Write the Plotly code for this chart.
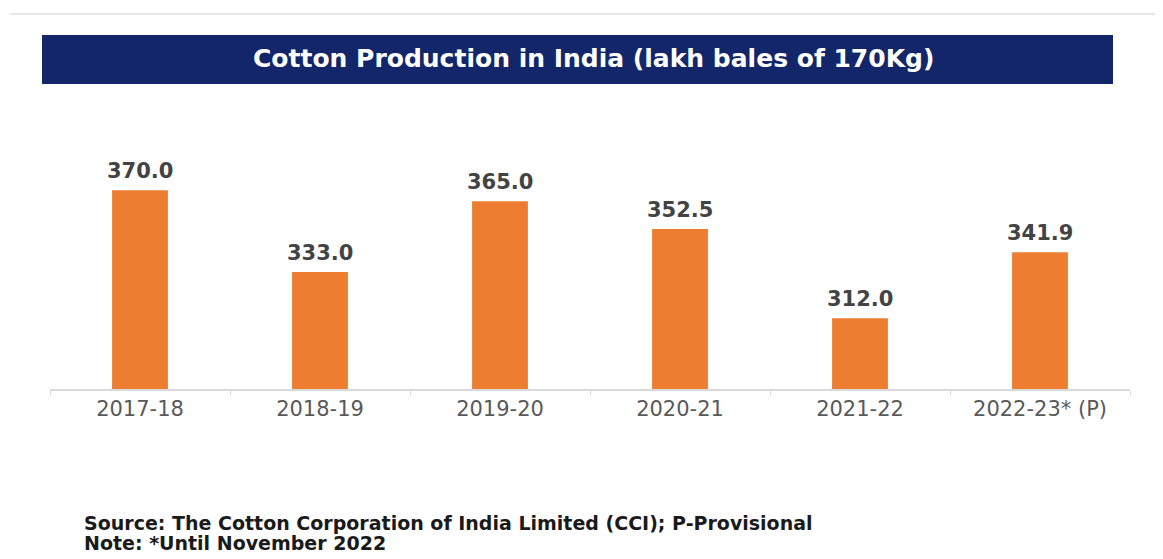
import plotly.graph_objects as go

categories = ["2017-18", "2018-19", "2019-20", "2020-21", "2021-22", "2022-23* (P)"]
production = [370.0, 333.0, 365.0, 352.5, 312.0, 341.9]
value_labels = ["370.0", "333.0", "365.0", "352.5", "312.0", "341.9"]

title_text = "Cotton Production in India (lakh bales of 170Kg)"
source_text = "Source: The Cotton Corporation of India Limited (CCI); P-Provisional"
note_text = "Note: *Until November 2022"

# page shows the figure with an 8px body offset
W, H = 1155, 551
PL, PR, PT, PB = 42, 33, 132, 170
PW = W - PL - PR
PH = H - PT - PB


def px(x):
    return (x - 8 - PL) / PW


def py(y):
    return 1 - (y - 8 - PT) / PH


fig = go.Figure()
fig.add_trace(go.Bar(
    x=categories, y=production,
    marker=dict(color="#ED7D31", line=dict(width=0)),
    cliponaxis=False,
))

label_annotations = [
    dict(x=c, y=v, xref="x", yref="y", text="<b>" + t + "</b>",
         showarrow=False, xanchor="center", yanchor="bottom", yshift=5,
         font=dict(family="DejaVu Sans", size=21, color="#434343"))
    for c, v, t in zip(categories, production, value_labels)
]

fig.update_layout(
    width=W, height=H,
    paper_bgcolor="white", plot_bgcolor="white",
    margin=dict(l=PL, r=PR, t=PT, b=PB),
    bargap=0.69,
    showlegend=False,
    xaxis=dict(
        showline=True, linecolor="#D9D9D9", linewidth=1.5,
        ticks="outside", tickson="boundaries", ticklen=4, tickcolor="#D9D9D9",
        tickfont=dict(family="DejaVu Sans", size=21, color="#595959"),
        showgrid=False,
    ),
    yaxis=dict(range=[280, 392.8], visible=False, showgrid=False),
    shapes=[
        dict(type="line", xref="paper", yref="paper", x0=px(10), x1=px(1163),
             y0=py(14), y1=py(14),
             line=dict(color="#E6E6E6", width=2)),
        dict(type="rect", xref="paper", yref="paper",
             x0=px(42), x1=px(1113), y0=py(84), y1=py(35),
             fillcolor="#13266A", line=dict(width=0), layer="above"),
    ],
    annotations=label_annotations + [
        dict(text="<b>" + title_text + "</b>", xref="paper", yref="paper",
             x=px(593), y=py(59),
             xanchor="center", yanchor="middle", showarrow=False,
             font=dict(family="DejaVu Sans", size=25, color="white")),
        dict(text="<b>" + source_text + "</b>", xref="paper", yref="paper",
             x=px(82), y=py(523),
             xanchor="left", yanchor="middle", showarrow=False,
             font=dict(family="DejaVu Sans", size=19, color="#1A1A1A")),
        dict(text="<b>" + note_text + "</b>", xref="paper", yref="paper",
             x=px(82), y=py(543),
             xanchor="left", yanchor="middle", showarrow=False,
             font=dict(family="DejaVu Sans", size=19, color="#1A1A1A")),
    ],
)

fig.write_html("out.html")
